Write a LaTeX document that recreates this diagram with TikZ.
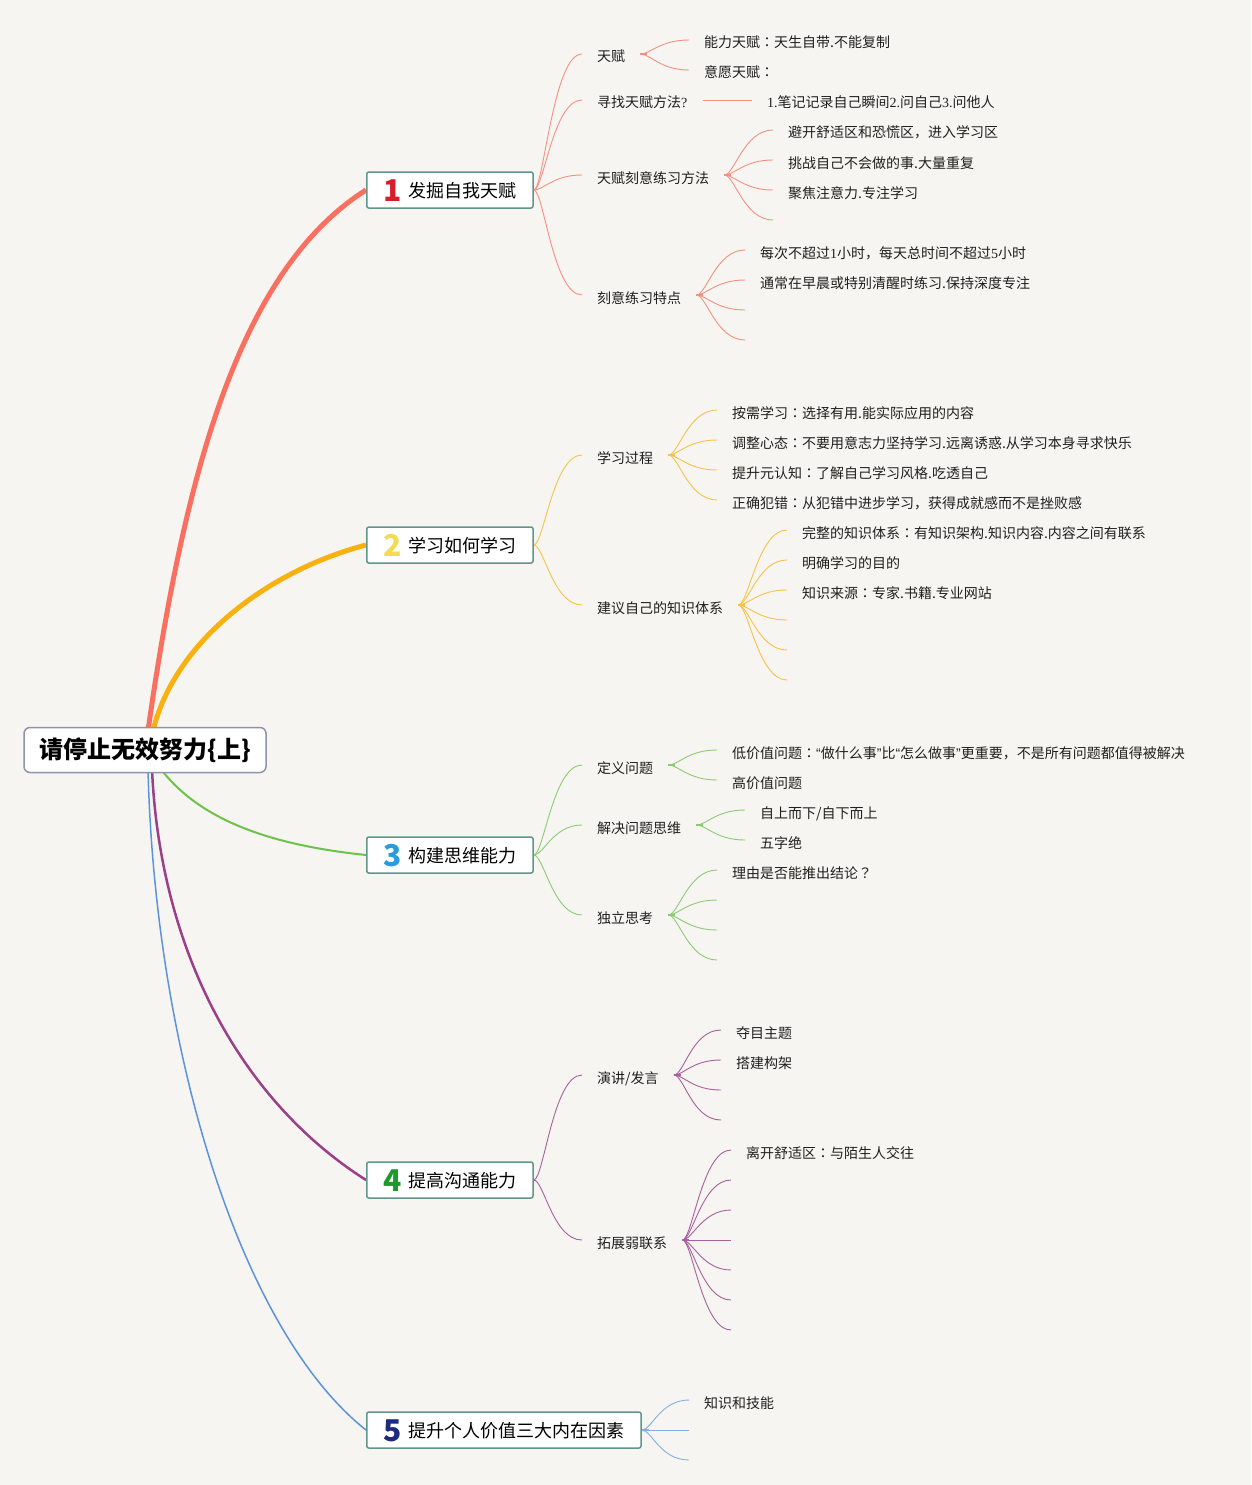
\documentclass[tikz,border=0pt]{standalone}
\usepackage{fontspec}
\setmainfont{Noto Sans CJK SC}
\newfontfamily\serf{Liberation Serif}
\newfontfamily\latf{Liberation Sans}
\newfontfamily\jpf{Noto Sans CJK JP}
\usetikzlibrary{backgrounds}
\definecolor{bg}{HTML}{F7F5F2}
\definecolor{redt}{HTML}{FA7060}
\definecolor{redl}{HTML}{F3907F}
\definecolor{orat}{HTML}{F9B10F}
\definecolor{oral}{HTML}{F8C24A}
\definecolor{grnt}{HTML}{6CC24A}
\definecolor{grnl}{HTML}{8CCB74}
\definecolor{purt}{HTML}{9A3F88}
\definecolor{purl}{HTML}{A7619C}
\definecolor{blut}{HTML}{5B93DA}
\definecolor{blul}{HTML}{86AEE2}
\definecolor{boxb}{HTML}{5E968A}
\definecolor{rootb}{HTML}{8E93AC}
\definecolor{numa}{HTML}{D81E2C}
\definecolor{numb}{HTML}{F2DC55}
\definecolor{numc}{HTML}{2B9BE0}
\definecolor{numd}{HTML}{1E9A2A}
\definecolor{nume}{HTML}{1C2B7E}
\tikzset{
  txt/.style={anchor=west, inner xsep=15pt, inner ysep=0pt, font=\fontsize{14}{16}\selectfont, text height=16pt, text depth=0pt, text=black!88},
  mainbox/.style={anchor=west, draw=boxb, line width=1.5pt, fill=white, rounded corners=2pt, inner xsep=17pt, inner ysep=0pt, minimum height=36pt, font=\fontsize{18}{20}\selectfont, text height=17pt, text depth=3pt},
  rootbox/.style={draw=rootb, line width=1.5pt, fill=white, rounded corners=6pt, minimum width=242pt, minimum height=45pt, font=\fontsize{24}{26}\selectfont\bfseries, text height=20pt, text depth=4pt, inner ysep=0pt},
  subline/.style={line width=0.9pt},
  stubline/.style={line width=1.8pt},
}
\newcommand\mnum[2]{\raisebox{-4pt}{\color{#1}\fontsize{30}{30}\selectfont\bfseries #2}\hspace{6pt}}
\newcommand\cv[2]{\draw[subline] (#1.east) .. controls +(10,0) and +(-29,0) .. (#2.west);}
\newcommand\cvc[2]{\draw[subline] (#1.east) .. controls +(10,0) and +(-29,0) .. (#2);}
\newcommand\stb[1]{\draw[stubline] (#1.east) -- +(7,0);}
\newcommand\cln{{\jpf ：}}
\begin{document}
\begin{tikzpicture}[x=1pt,y=-1pt]
\begin{pgfonlayer}{background}
\fill[bg] (0,0) rectangle (1251,1485);
\end{pgfonlayer}
\useasboundingbox (0,0) rectangle (1251,1485);
% root and main topics
\node[rootbox] (root) at (145,750) {请停止无效努力\{上\}};
\node[mainbox] (m1) at (366,190) {\mnum{numa}{1}发掘自我天赋};
\node[mainbox] (m2) at (366,545) {\mnum{numb}{2}学习如何学习};
\node[mainbox] (m3) at (366,855) {\mnum{numc}{3}构建思维能力};
\node[mainbox] (m4) at (366,1180) {\mnum{numd}{4}提高沟通能力};
\node[mainbox] (m5) at (366,1430) {\mnum{nume}{5}提升个人价值三大内在因素};
% branch 1
\node[txt] (a1) at (582,54) {天赋};
\node[txt] (a11) at (689,40) {能力天赋\cln 天生自带.不能复制};
\node[txt] (a12) at (689,70) {意愿天赋\cln};
\node[txt] (a2) at (582,100) {寻找天赋方法{\serf ?}};
\node[txt] (a21) at (752,100) {{\serf 1.}笔记记录自己瞬间{\serf 2.}问自己{\serf 3.}问他人};
\node[txt] (a3) at (582,175) {天赋刻意练习方法};
\node[txt] (a31) at (773,130) {避开舒适区和恐慌区，进入学习区};
\node[txt] (a32) at (773,160) {挑战自己不会做的事.大量重复};
\node[txt] (a33) at (773,190) {聚焦注意力.专注学习};
\coordinate (a34) at (773,220);
\node[txt] (a4) at (582,295) {刻意练习特点};
\node[txt] (a41) at (745,250) {每次不超过{\serf 1}小时，每天总时间不超过{\serf 5}小时};
\node[txt] (a42) at (745,280) {通常在早晨或特别清醒时练习.保持深度专注};
\coordinate (a43) at (745,310);
\coordinate (a44) at (745,340);
% branch 2
\node[txt] (b1) at (582,455) {学习过程};
\node[txt] (b11) at (717,410) {按需学习\cln 选择有用.能实际应用的内容};
\node[txt] (b12) at (717,440) {调整心态\cln 不要用意志力坚持学习.远离诱惑.从学习本身寻求快乐};
\node[txt] (b13) at (717,470) {提升元认知\cln 了解自己学习风格.吃透自己};
\node[txt] (b14) at (717,500) {正确犯错\cln 从犯错中进步学习，获得成就感而不是挫败感};
\node[txt] (b2) at (582,605) {建议自己的知识体系};
\node[txt] (b21) at (787,530) {完整的知识体系\cln 有知识架构.知识内容.内容之间有联系};
\node[txt] (b22) at (787,560) {明确学习的目的};
\node[txt] (b23) at (787,590) {知识来源\cln 专家.书籍.专业网站};
\coordinate (b24) at (787,620);
\coordinate (b25) at (787,650);
\coordinate (b26) at (787,680);
% branch 3
\node[txt] (c1) at (582,765) {定义问题};
\node[txt] (c11) at (717,750) {低价值问题\cln{\latf “}做什么事{\latf ”}比{\latf “}怎么做事{\latf ”}更重要，不是所有问题都值得被解决};
\node[txt] (c12) at (717,780) {高价值问题};
\node[txt] (c2) at (582,825) {解决问题思维};
\node[txt] (c21) at (745,810) {自上而下/自下而上};
\node[txt] (c22) at (745,840) {五字绝};
\node[txt] (c3) at (582,915) {独立思考};
\node[txt] (c31) at (717,870) {理由是否能推出结论{\jpf ？}};
\coordinate (c32) at (717,900);
\coordinate (c33) at (717,930);
\coordinate (c34) at (717,960);
% branch 4
\node[txt] (d1) at (582,1075) {演讲/发言};
\node[txt] (d11) at (721,1030) {夺目主题};
\node[txt] (d12) at (721,1060) {搭建构架};
\coordinate (d13) at (721,1090);
\coordinate (d14) at (721,1120);
\node[txt] (d2) at (582,1240) {拓展弱联系};
\node[txt] (d21) at (731,1150) {离开舒适区\cln 与陌生人交往};
\coordinate (d22) at (731,1180);
\coordinate (d23) at (731,1210);
\coordinate (d24) at (731,1240);
\coordinate (d25) at (731,1270);
\coordinate (d26) at (731,1300);
\coordinate (d27) at (731,1330);
% branch 5
\node[txt] (e1) at (689,1400) {知识和技能};
\coordinate (e2) at (689,1430);
\coordinate (e3) at (689,1460);
\begin{pgfonlayer}{background}
% main connectors
\draw[redt, line width=5pt] ([xshift=3pt,yshift=-4pt]root.north) .. controls (185,470) and (240,270) .. (m1.west);
\draw[orat, line width=5pt] ([xshift=8pt,yshift=-4pt]root.north) .. controls (175,640) and (270,570) .. (m2.west);
\draw[grnt, line width=2pt] ([xshift=16pt,yshift=4pt]root.south) .. controls (200,820) and (270,845) .. (m3.west);
\draw[purt, line width=2.5pt] ([xshift=7pt,yshift=4pt]root.south) .. controls (160,950) and (240,1100) .. (m4.west);
\draw[blut, line width=1.5pt] ([xshift=3pt,yshift=4pt]root.south) .. controls (155,1050) and (240,1330) .. (m5.west);
% branch 1 lines
\begin{scope}[redl]
\cv{m1}{a1}\cv{m1}{a2}\cv{m1}{a3}\cv{m1}{a4}
\stb{a1}\cv{a1}{a11}\cv{a1}{a12}
\draw[subline] (a2.east) -- (a21.west);
\stb{a3}\cv{a3}{a31}\cv{a3}{a32}\cv{a3}{a33}\cvc{a3}{a34}
\stb{a4}\cv{a4}{a41}\cv{a4}{a42}\cvc{a4}{a43}\cvc{a4}{a44}
\end{scope}
% branch 2 lines
\begin{scope}[oral]
\cv{m2}{b1}\cv{m2}{b2}
\stb{b1}\cv{b1}{b11}\cv{b1}{b12}\cv{b1}{b13}\cv{b1}{b14}
\stb{b2}\cv{b2}{b21}\cv{b2}{b22}\cv{b2}{b23}\cvc{b2}{b24}\cvc{b2}{b25}\cvc{b2}{b26}
\end{scope}
% branch 3 lines
\begin{scope}[grnl]
\cv{m3}{c1}\cv{m3}{c2}\cv{m3}{c3}
\stb{c1}\cv{c1}{c11}\cv{c1}{c12}
\stb{c2}\cv{c2}{c21}\cv{c2}{c22}
\stb{c3}\cv{c3}{c31}\cvc{c3}{c32}\cvc{c3}{c33}\cvc{c3}{c34}
\end{scope}
% branch 4 lines
\begin{scope}[purl]
\cv{m4}{d1}\cv{m4}{d2}
\stb{d1}\cv{d1}{d11}\cv{d1}{d12}\cvc{d1}{d13}\cvc{d1}{d14}
\stb{d2}\cv{d2}{d21}\cvc{d2}{d22}\cvc{d2}{d23}\cvc{d2}{d24}\cvc{d2}{d25}\cvc{d2}{d26}\cvc{d2}{d27}
\end{scope}
% branch 5 lines
\begin{scope}[blul]
\stb{m5}\cv{m5}{e1}\cvc{m5}{e2}\cvc{m5}{e3}
\end{scope}
\end{pgfonlayer}
\end{tikzpicture}
\end{document}
